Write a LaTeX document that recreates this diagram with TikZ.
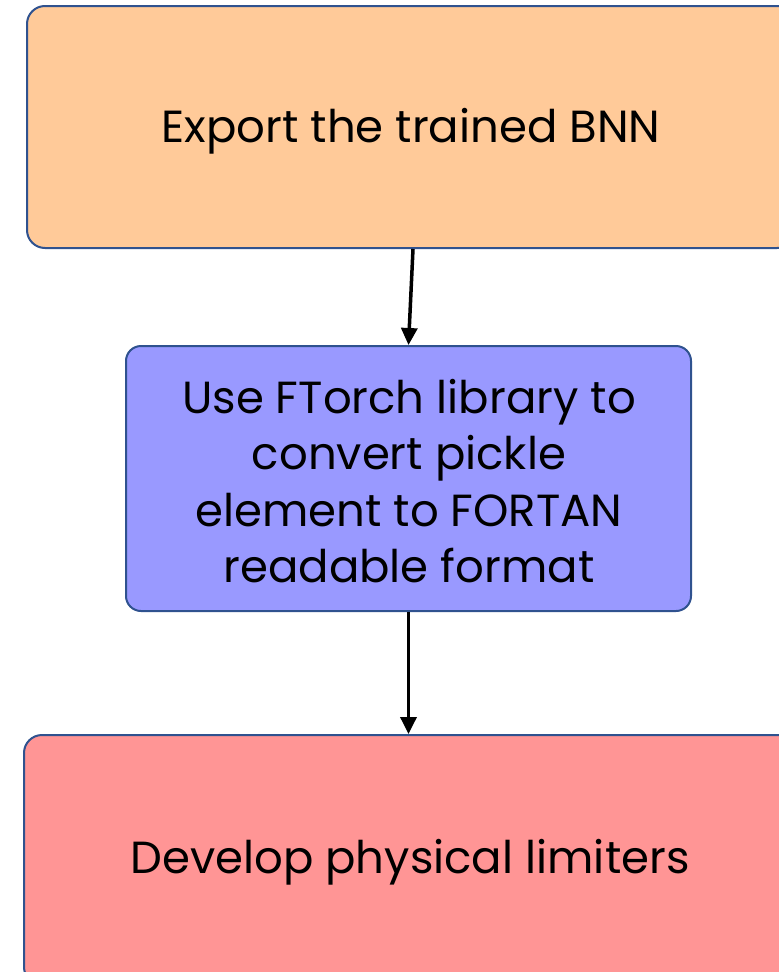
\documentclass[tikz,border=0pt]{standalone}
\usepackage{fontspec}
\setmainfont{Poppins}
\usetikzlibrary{arrows.meta}
\definecolor{edgeblue}{HTML}{2F528F}
\definecolor{orangefill}{HTML}{FFCA99}
\definecolor{bluefill}{HTML}{9999FF}
\definecolor{redfill}{HTML}{FF9595}
\tikzset{
  box/.style={draw=edgeblue, line width=2pt, rounded corners=18pt, inner sep=0pt},
  lbl/.style={align=center, font=\fontsize{45}{56.5}\selectfont, inner sep=0pt},
  arr/.style={draw=black, line width=3.5pt, -{Triangle[length=17pt,width=16pt]}}
}
\begin{document}
\begin{tikzpicture}[x=1pt,y=-1pt]
\useasboundingbox (0,0) rectangle (779,972);
\node[box, fill=orangefill, minimum width=768pt, minimum height=242pt] (top) at (411,127) {};
\node[lbl] (toplbl) at (411,131) {Export the trained BNN};
\node[box, fill=bluefill, minimum width=565pt, minimum height=265pt, rounded corners=15pt] (mid) at (408.5,478.5) {};
\node[lbl] (midlbl) at (409,481) {Use FTorch library to\\convert pickle\\element to FORTAN\\readable format};
\node[box, fill=redfill, minimum width=772pt, minimum height=250pt] (bot) at (410,860) {};
\node[lbl] (botlbl) at (410,862) {Develop physical limiters};
\draw[arr] ([xshift=2pt]top.south) -- (mid.north);
\draw[arr] (mid.south) -- (mid.south |- bot.north);
\end{tikzpicture}
\end{document}
